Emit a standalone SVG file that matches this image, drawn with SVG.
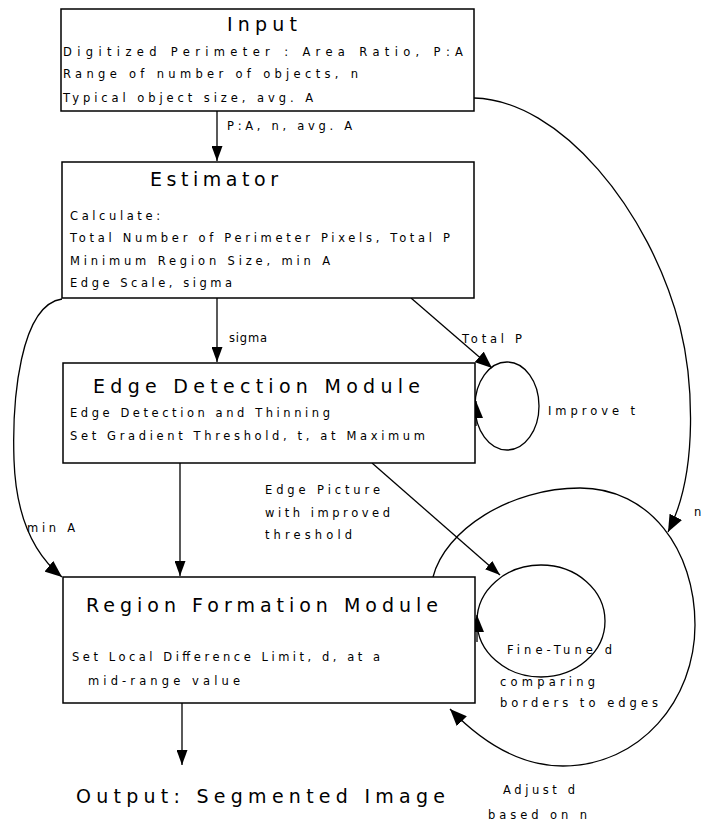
<svg xmlns="http://www.w3.org/2000/svg" width="703" height="823" viewBox="0 0 703 823">
<style>
.box{fill:#fff;stroke:#000;stroke-width:1.5}
.ln{fill:none;stroke:#000;stroke-width:1.3}
text{font-family:"DejaVu Sans","Liberation Sans",sans-serif;fill:#000}
.t{font-size:11.5px}
.h{font-size:19px}
</style>
<defs>
<marker id="ah" viewBox="0 0 15 11" refX="15" refY="5.5" markerWidth="15" markerHeight="11" markerUnits="userSpaceOnUse" orient="auto">
<path d="M0,0 L15,5.5 L0,11 z" fill="#000"/>
</marker>
<marker id="ahL" viewBox="0 0 17 14" refX="17" refY="7" markerWidth="17" markerHeight="14" markerUnits="userSpaceOnUse" orient="auto">
<path d="M0,0 L17,7 L0,14 z" fill="#000"/>
</marker>
</defs>
<rect width="703" height="823" fill="#fff"/>
<g id="connectors">
<line class="ln" x1="217" y1="111" x2="217" y2="161" marker-end="url(#ah)"/>
<line class="ln" x1="217" y1="298" x2="217" y2="362" marker-end="url(#ah)"/>
<line class="ln" x1="411" y1="298" x2="492" y2="368" marker-end="url(#ahL)"/>
<ellipse class="ln" cx="507" cy="406" rx="32" ry="44"/>
<path class="ln" d="M476 426 L476 401" marker-end="url(#ahL)"/>
<line class="ln" x1="180" y1="463" x2="180" y2="576" marker-end="url(#ah)"/>
<line class="ln" x1="372" y1="463" x2="500" y2="575" marker-end="url(#ah)"/>
<ellipse class="ln" cx="541" cy="621" rx="64" ry="56"/>
<path class="ln" d="M477 642 L477 615" marker-end="url(#ahL)"/>
<path class="ln" d="M433 577 C445 530 510 488 580 488 C650 488 695 550 695 625 C695 700 640 766 563 766 C515 766 478 738 450 709" marker-end="url(#ahL)"/>
<path class="ln" d="M474 98 C560 100 650 210 680 327 C692 375 700 470 668 532" marker-end="url(#ahL)"/>
<path class="ln" d="M62 299 C20 305 12 400 14 460 C16 520 35 555 62 577" marker-end="url(#ahL)"/>
<line class="ln" x1="182" y1="703" x2="182" y2="765" marker-end="url(#ah)"/>
<text class="t" x="227" y="130" textLength="125" lengthAdjust="spacing">P:A, n, avg. A</text>
<text class="t" x="229" y="342" textLength="38" lengthAdjust="spacing">sigma</text>
<text class="t" x="462" y="343" textLength="60" lengthAdjust="spacing">Total P</text>
<text class="t" x="548" y="415" textLength="87" lengthAdjust="spacing">Improve  t</text>
<text class="t" x="265" y="494" textLength="115" lengthAdjust="spacing">Edge Picture</text>
<text class="t" x="265" y="517" textLength="125" lengthAdjust="spacing">with improved</text>
<text class="t" x="265" y="539" textLength="87" lengthAdjust="spacing">threshold</text>
<text class="t" x="27" y="532" textLength="48" lengthAdjust="spacing">min A</text>
<text class="t" x="507" y="654" textLength="105" lengthAdjust="spacing">Fine-Tune  d</text>
<text class="t" x="500" y="686" textLength="95" lengthAdjust="spacing">comparing</text>
<text class="t" x="500" y="707" textLength="158" lengthAdjust="spacing">borders to edges</text>
<text class="t" x="503" y="794" textLength="72" lengthAdjust="spacing">Adjust d</text>
<text class="t" x="488" y="819" textLength="99" lengthAdjust="spacing">based on n</text>
<text class="t" x="694" y="516">n</text>
</g>
<g id="input">
<rect class="box" x="61" y="9" width="413" height="102"/>
<text class="h" x="227" y="31" textLength="70" lengthAdjust="spacing">Input</text>
<text class="t" x="63" y="56" textLength="400" lengthAdjust="spacing">Digitized Perimeter : Area Ratio, P:A</text>
<text class="t" x="63" y="78" textLength="295" lengthAdjust="spacing">Range of number of objects, n</text>
<text class="t" x="63" y="102" textLength="250" lengthAdjust="spacing">Typical object size, avg. A</text>
</g>
<g id="estimator">
<rect class="box" x="62" y="162" width="412" height="136"/>
<text class="h" x="150" y="186" textLength="128" lengthAdjust="spacing">Estimator</text>
<text class="t" x="70" y="220" textLength="90" lengthAdjust="spacing">Calculate:</text>
<text class="t" x="70" y="242" textLength="380" lengthAdjust="spacing">Total Number of Perimeter Pixels, Total P</text>
<text class="t" x="70" y="265" textLength="260" lengthAdjust="spacing">Minimum Region Size, min A</text>
<text class="t" x="70" y="287" textLength="162" lengthAdjust="spacing">Edge Scale, sigma</text>
</g>
<g id="edge-detection">
<rect class="box" x="63" y="363" width="412" height="100"/>
<text class="h" x="93" y="393" textLength="327" lengthAdjust="spacing">Edge  Detection  Module</text>
<text class="t" x="70" y="417" textLength="260" lengthAdjust="spacing">Edge Detection and Thinning</text>
<text class="t" x="70" y="440" textLength="355" lengthAdjust="spacing">Set Gradient Threshold, t, at Maximum</text>
</g>
<g id="region-formation">
<rect class="box" x="63" y="577" width="412" height="126"/>
<text class="h" x="86" y="612" textLength="352" lengthAdjust="spacing">Region  Formation  Module</text>
<text class="t" x="72" y="661" textLength="308" lengthAdjust="spacing">Set Local Difference Limit, d, at a</text>
<text class="t" x="88" y="685" textLength="152" lengthAdjust="spacing">mid-range value</text>
</g>
<g id="output">
<text class="h" x="76" y="803" textLength="369" lengthAdjust="spacing">Output:  Segmented  Image</text>
</g>
</svg>
